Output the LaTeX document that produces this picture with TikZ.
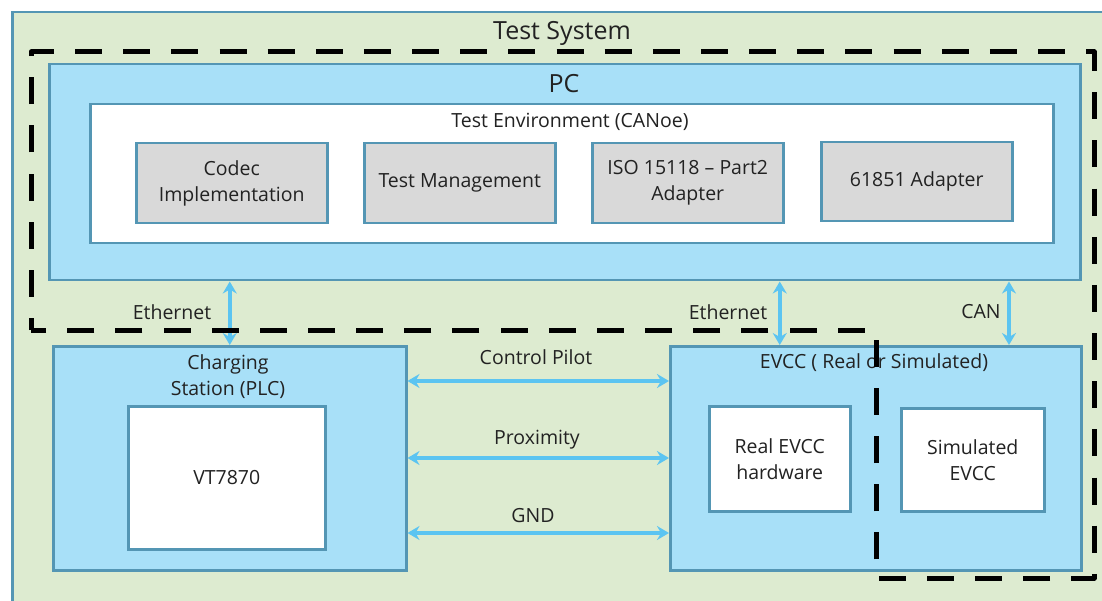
\documentclass[tikz,border=0pt]{standalone}
\usepackage{fontspec}
\setmainfont{Open Sans}
\usetikzlibrary{arrows.meta}
\definecolor{sysgreen}{HTML}{DDEBD0}
\definecolor{pcblue}{HTML}{A8E0F8}
\definecolor{edge}{HTML}{5496B4}
\definecolor{modgray}{HTML}{D9D9D9}
\definecolor{wire}{HTML}{5BC4F1}
\definecolor{txt}{HTML}{222222}
\tikzset{
  box/.style={draw=edge, line width=2.5pt, anchor=north west, inner sep=0pt,
    text=txt, font=\fontsize{19.5}{26}\selectfont, align=center},
  sysbox/.style={box, fill=sysgreen},
  bluebox/.style={box, fill=pcblue},
  whitebox/.style={box, fill=white},
  graybox/.style={box, fill=modgray},
  lbl/.style={text=txt, font=\fontsize{19.5}{26}\selectfont, align=center, inner sep=0pt},
  biglbl/.style={text=txt, font=\fontsize{25}{30}\selectfont, inner sep=0pt},
  link/.style={draw=wire, line width=3.5pt,
    {Stealth[length=12pt,width=14pt,inset=4pt]}-{Stealth[length=12pt,width=14pt,inset=4pt]}},
  scope line/.style={draw=black, line width=5pt, dash pattern=on 27pt off 21.15pt,
    dash phase=15pt, line join=round}
}
\begin{document}
\begin{tikzpicture}[x=1pt,y=-1pt]
\useasboundingbox (0,0) rectangle (1102,601);
\clip (0,0) rectangle (1102,601);
\fill[white] (0,0) rectangle (1102,601);

% test system frame (runs past the right and bottom edges)
\node[sysbox, minimum width=1130pt, minimum height=630pt] (sys) at (11,11) {};
\node[biglbl] (systitle) at (562,33) {Test System};

% PC with the CANoe test environment
\node[bluebox, minimum width=1031pt, minimum height=216pt] (pc) at (48,63) {};
\node[biglbl] (pctitle) at (564,84) {PC};
\node[whitebox, minimum width=963pt, minimum height=139pt] (env) at (89,103) {};
\node[lbl] (envtitle) at (570,122) {Test Environment (CANoe)};
\node[graybox, minimum width=191pt, minimum height=80pt] (codec) at (135,142) {Codec\\Implementation};
\node[graybox, minimum width=191pt, minimum height=80pt] (mgmt) at (363,142) {Test Management};
\node[graybox, minimum width=191pt, minimum height=80pt] (iso) at (591,142) {ISO 15118 -- Part2\\Adapter};
\node[graybox, minimum width=191pt, minimum height=79pt] (iec) at (820,141) {61851 Adapter};

% charging station
\node[bluebox, minimum width=353pt, minimum height=224pt] (cs) at (52,345) {};
\node[lbl] (cstitle) at (228,377) {Charging\\Station (PLC)};
\node[whitebox, minimum width=197pt, minimum height=143pt] (vt) at (127,405) {VT7870};

% EVCC
\node[bluebox, minimum width=411pt, minimum height=224pt] (evcc) at (669,345) {};
\node[lbl] (evcctitle) at (874,363) {EVCC ( Real or Simulated)};
\node[whitebox, minimum width=141pt, minimum height=105pt] (real) at (708,405) {Real EVCC\\hardware};
\node[whitebox, minimum width=143pt, minimum height=103pt] (sim) at (900,407) {Simulated\\EVCC};

% connections to the PC
\draw[link] (cs.north |- pc.south) -- (cs.north);
\node[lbl] (eth1) at (172,312) {Ethernet};
\draw[link] (real.north |- pc.south) -- (real.north |- evcc.north);
\node[lbl] (eth2) at (728,312) {Ethernet};
\coordinate (canx) at (1009,0);
\draw[link] (canx |- pc.south) -- (canx |- evcc.north);
\node[lbl] (can) at (981,312) {CAN};

% lines between charging station and EVCC
\draw[link] (cs.east |- 0,381) -- (evcc.west |- 0,381);
\node[lbl] (cp) at (536,357) {Control Pilot};
\draw[link] (cs.east |- 0,458) -- (evcc.west |- 0,458);
\node[lbl] (prox) at (537,440) {Proximity};
\draw[link] (cs.east |- 0,533) -- (evcc.west |- 0,533);
\node[lbl] (gnd) at (533,516) {GND};

% boundary of the system under test
\draw[scope line] (31,330) -- (31,52) -- (1094,52) -- (1094,578) -- (876,578) -- (876,330) -- cycle;
\end{tikzpicture}
\end{document}
